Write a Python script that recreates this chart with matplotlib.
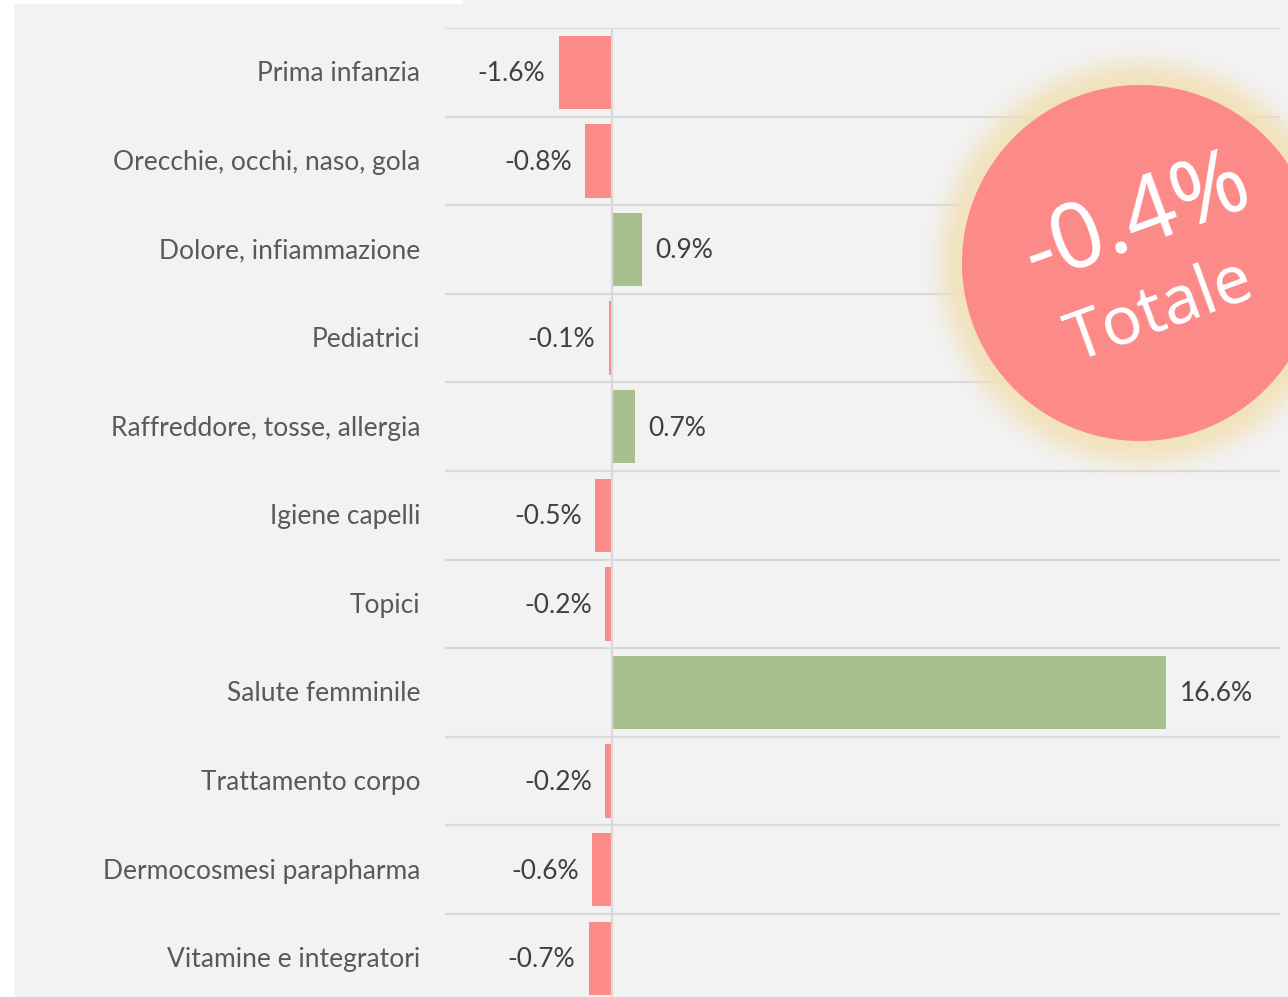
import numpy as np
import matplotlib
matplotlib.use("Agg")
import matplotlib.pyplot as plt
from matplotlib.patches import Rectangle, Circle

categories = ["Prima infanzia", "Orecchie, occhi, naso, gola", "Dolore, infiammazione",
              "Pediatrici", "Raffreddore, tosse, allergia", "Igiene capelli", "Topici",
              "Salute femminile", "Trattamento corpo", "Dermocosmesi parapharma",
              "Vitamine e integratori"]
values = [-1.6, -0.8, 0.9, -0.1, 0.7, -0.5, -0.2, 16.6, -0.2, -0.6, -0.7]
total_value = -0.4
total_label = "Totale"

W, H = 1288, 997
fig = plt.figure(figsize=(W / 100, H / 100), dpi=100)
fig.patch.set_facecolor("white")

# panel background
fig.add_artist(Rectangle((14 / W, 0), 1 - 14 / W, 1 - 4 / H, transform=fig.transFigure,
                         facecolor="#f2f2f2", edgecolor="none", zorder=0))
fig.add_artist(Rectangle((463 / W, 1 - 5 / H), 1 - 463 / W, 5 / H, transform=fig.transFigure,
                         facecolor="#f2f2f2", edgecolor="none", zorder=0))

n = len(categories)
top_px, row_px = 28, 88.6
ax_left, ax_right = 445, 1280
ax_bottom_px = top_px + n * row_px
ax = fig.add_axes([ax_left / W, 1 - ax_bottom_px / H, (ax_right - ax_left) / W,
                   (ax_bottom_px - top_px) / H])
ax.set_facecolor("none")
ax.set_xlim(-5, 20)
ax.set_ylim(n - 0.5, -0.5)

red, green = "#fb8a89", "#a8bf8e"
y = np.arange(n)
ax.barh(y, values, height=0.83, color=[green if v > 0 else red for v in values], zorder=2)

for i in range(n + 1):
    ax.axhline(i - 0.5, color="#d9d9d9", lw=1.6, zorder=1)
ax.axvline(0, color="#d9d9d9", lw=1.6, zorder=3)

for s in ax.spines.values():
    s.set_visible(False)
ax.set_xticks([])
ax.set_yticks([])

lato = ["Lato", "DejaVu Sans"]
for i, (c, v) in enumerate(zip(categories, values)):
    ax.annotate(c, xy=(0, i), xycoords=("axes fraction", "data"), xytext=(-18, -1),
                textcoords="offset points", ha="right", va="center", fontsize=19,
                color="#595959", family=lato)
    off = 9.5 if v > 0 else -9.5
    ax.annotate(f"{v:.1f}%", xy=(v, i), xytext=(off, -1), textcoords="offset points",
                ha="left" if v > 0 else "right", va="center", fontsize=19,
                color="#404040", family=lato)

# overlay for badge
ov = fig.add_axes([0, 0, 1, 1])
ov.set_xlim(0, W)
ov.set_ylim(H, 0)
ov.axis("off")
ov.patch.set_alpha(0)

cx, cy, r = 1140, 263, 178
gx = np.arange(W)
gy = np.arange(H)
XX, YY = np.meshgrid(gx, gy)
d = np.sqrt((XX - cx) ** 2 + (YY - cy) ** 2)
glow = np.zeros((H, W, 4))
glow[..., 0] = 242 / 255
glow[..., 1] = 226 / 255
glow[..., 2] = 186 / 255
t = np.clip((d - r) / 42, 0, 1)
a = 1 - t * t * (3 - 2 * t)
glow[..., 3] = a * 0.95
ov.imshow(glow, extent=(0, W, H, 0), zorder=1, interpolation="bilinear")
ov.add_patch(Circle((cx, cy), r, facecolor="#fb8a89", edgecolor="none", zorder=2))

ov.text(1137, 220, f"{total_value:.1f}%", rotation=20, ha="center", va="center",
        fontsize=66, color="white", weight="medium",
        family=["Noto Sans", "DejaVu Sans"], zorder=3)
ov.text(1160, 312, total_label, rotation=20, ha="center", va="center",
        fontsize=48, color="white", weight="medium",
        family=["Noto Sans", "DejaVu Sans"], zorder=3)

fig.savefig("out.png", dpi=100)
